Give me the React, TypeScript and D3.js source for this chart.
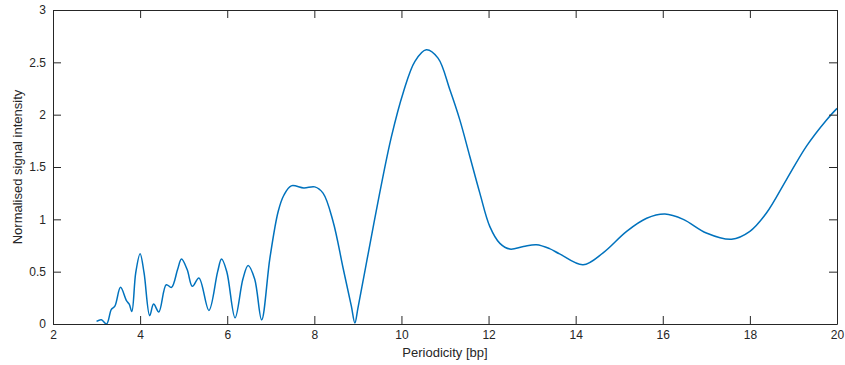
import { useEffect, useRef } from "react";
import * as d3 from "d3";

// periodicity in bp and the normalised intensity
const periodicity = [
  3.0, 3.11, 3.23, 3.34, 3.42, 3.55, 3.69, 3.75, 3.81, 3.9, 4.0, 4.09, 4.22, 4.31, 4.43,
  4.6, 4.72, 4.86, 4.95, 5.08, 5.2, 5.35, 5.58, 5.78, 5.87, 5.99, 6.18, 6.36, 6.48, 6.63,
  6.79, 6.98, 7.17, 7.3, 7.47, 7.76, 8.01, 8.2, 8.43, 8.66, 8.85, 8.93, 9.0, 9.21, 9.5,
  9.77, 10.04, 10.31, 10.57, 10.84, 11.11, 11.34, 11.57, 11.8, 12.03, 12.26, 12.49, 12.8,
  13.1, 13.4, 13.63, 14.17, 14.63, 15.17, 15.63, 16.05, 16.47, 17.0, 17.58, 18.0, 18.38,
  18.84, 19.3, 19.76, 20.0,
];
const intensity = [
  0.025, 0.04, 0.0, 0.14, 0.17, 0.35, 0.22, 0.19, 0.12, 0.49, 0.67, 0.49, 0.08, 0.19, 0.115,
  0.375, 0.35, 0.52, 0.62, 0.52, 0.36, 0.44, 0.13, 0.5, 0.62, 0.5, 0.06, 0.43, 0.56, 0.43,
  0.04, 0.63, 1.075, 1.23, 1.32, 1.3, 1.31, 1.25, 0.98, 0.535, 0.17, 0.01, 0.15, 0.614, 1.25,
  1.79, 2.21, 2.51, 2.62, 2.54, 2.24, 1.95, 1.6, 1.25, 0.93, 0.77, 0.716, 0.74,
  0.757, 0.72, 0.67, 0.566, 0.68, 0.885, 1.01, 1.05, 1.0, 0.87, 0.81, 0.885, 1.06,
  1.38, 1.7, 1.95, 2.06,
];
const xTicks = [2, 4, 6, 8, 10, 12, 14, 16, 18, 20];
const yTicks = [0, 0.5, 1, 1.5, 2, 2.5, 3];

export default function App() {
  const svgRef = useRef<SVGSVGElement>(null);

  useEffect(() => {
    if (!svgRef.current) return;
    const width = 845;
    const height = 365;
    const margin = { top: 10, right: 8, bottom: 41, left: 53 };
    const ink = "#262626";
    const font = "'Liberation Sans', Arial, Helvetica, sans-serif";

    const svg = d3.select(svgRef.current);
    svg.selectAll("*").remove();

    const x = d3.scaleLinear().domain([2, 20]).range([margin.left, width - margin.right]);
    const y = d3.scaleLinear().domain([0, 3]).range([height - margin.bottom, margin.top]);

    const data = periodicity.map((p, i) => ({ p, v: intensity[i] }));

    const line = d3
      .line<{ p: number; v: number }>()
      .x((d) => x(d.p))
      .y((d) => y(d.v))
      .curve(d3.curveCatmullRom.alpha(0.5));

    svg
      .append("path")
      .datum(data)
      .attr("d", line)
      .attr("fill", "none")
      .attr("stroke", "#0072BD")
      .attr("stroke-width", 1.5);

    const tickLen = 8;

    // bottom axis, ticks pointing inward
    const bottom = svg
      .append("g")
      .attr("transform", `translate(0,${y(0)})`)
      .call(d3.axisBottom(x).tickValues(xTicks).tickSize(-tickLen).tickSizeOuter(0));
    // top axis (no labels)
    const top = svg
      .append("g")
      .attr("transform", `translate(0,${y(3)})`)
      .call(d3.axisTop(x).tickValues(xTicks).tickSize(-tickLen).tickFormat(() => "").tickSizeOuter(0));
    // left axis
    const left = svg
      .append("g")
      .attr("transform", `translate(${x(2)},0)`)
      .call(d3.axisLeft(y).tickValues(yTicks).tickSize(-tickLen).tickFormat(d3.format("")).tickSizeOuter(0));
    // right axis (no labels)
    const right = svg
      .append("g")
      .attr("transform", `translate(${x(20)},0)`)
      .call(d3.axisRight(y).tickValues(yTicks).tickSize(-tickLen).tickFormat(() => "").tickSizeOuter(0));

    [bottom, top, left, right].forEach((g) => {
      g.selectAll("path").attr("stroke", ink).attr("stroke-width", 1);
      g.selectAll("line").attr("stroke", ink).attr("stroke-width", 1);
      g.selectAll("text").attr("fill", ink).attr("font-size", 12).attr("font-family", font);
    });
    bottom.selectAll("text").attr("dy", "0.71em").attr("y", 6);
    left.selectAll("text").attr("x", -7);

    svg
      .append("text")
      .attr("x", x(11))
      .attr("y", 357)
      .attr("text-anchor", "middle")
      .attr("fill", ink)
      .attr("font-size", 13)
      .attr("font-family", font)
      .text("Periodicity [bp]");

    svg
      .append("text")
      .attr("transform", `translate(22,${y(1.5)}) rotate(-90)`)
      .attr("text-anchor", "middle")
      .attr("fill", ink)
      .attr("font-size", 13)
      .attr("font-family", font)
      .text("Normalised signal intensity");
  }, []);

  return (
    <svg
      ref={svgRef}
      width={845}
      height={365}
      style={{ position: "absolute", left: 0, top: 0, background: "#fff" }}
    />
  );
}
